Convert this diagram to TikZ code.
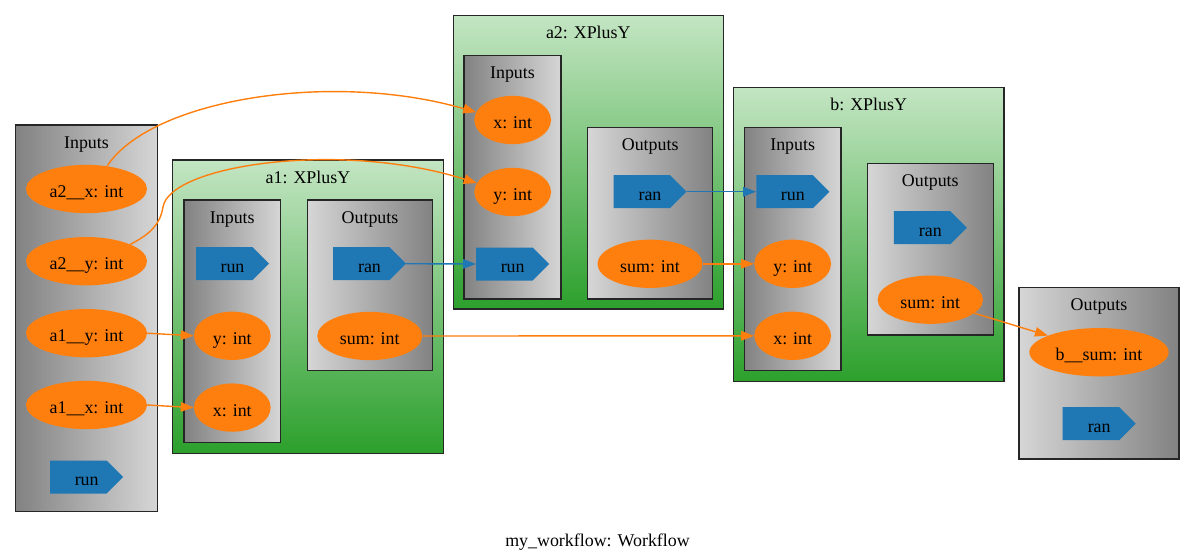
\documentclass[tikz,border=0pt]{standalone}
\usepackage{fontspec}
\setmainfont{Liberation Serif}
\usetikzlibrary{shapes.geometric,arrows.meta}
\definecolor{orng}{HTML}{FF7F0E}
\definecolor{blu}{HTML}{1F77B4}
\definecolor{grn}{HTML}{2CA02C}
\definecolor{grnlight}{HTML}{C3E5C3}
\definecolor{gdark}{HTML}{828282}
\definecolor{glight}{HTML}{D6D6D6}
\newcommand\cdsnode[4]{%
  \fill[blu] ({#2-36.5},{#3-16.5}) -- ({#2+20},{#3-16.5}) -- ({#2+36.5},{#3}) -- ({#2+20},{#3+16.5}) -- ({#2-36.5},{#3+16.5}) -- cycle;
  \node[txt, minimum width=73pt, minimum height=33pt] (#1) at (#2,#3) {#4};}
\begin{document}
\begin{tikzpicture}[x=1pt,y=-1pt,
  txt/.style={font=\fontsize{17.9pt}{21pt}\selectfont, inner sep=0pt, text height=17pt, text depth=0pt},
  lbl/.style={font=\fontsize{17.9pt}{21pt}\selectfont, inner sep=0pt, anchor=base},
  port/.style={txt, ellipse, fill=orng, draw=none, minimum height=48.3pt},
  clus/.style={draw=black!85, line width=1.1pt},
  grayLR/.style={left color=gdark, right color=glight},
  grayRL/.style={left color=glight, right color=gdark},
  greenTB/.style={top color=grnlight, bottom color=grn},
  oedge/.style={draw=orng, line width=1.4pt, -{Triangle[length=13pt,width=9.5pt]}},
  bedge/.style={draw=blu, line width=1.4pt, -{Triangle[length=13pt,width=9.5pt]}}]
\useasboundingbox (0,0) rectangle (1195,558);

% ---------- clusters ----------
\draw[clus, grayLR] (15.7,125) rectangle (157.3,511.7);
\node[lbl] (lInL) at (86.5,148) {Inputs};

\draw[clus, greenTB] (172.7,160) rectangle (443.3,453.3);
\node[lbl] (la1) at (308,183.3) {a1: XPlusY};
\draw[clus, grayLR] (184,200) rectangle (280.7,442.7);
\node[lbl] (la1in) at (232.3,223) {Inputs};
\draw[clus, grayRL] (307.3,200) rectangle (432.7,370.7);
\node[lbl] (la1out) at (370,223) {Outputs};

\draw[clus, greenTB] (453.3,15.7) rectangle (723.3,309);
\node[lbl] (la2) at (588.3,38.7) {a2: XPlusY};
\draw[clus, grayLR] (464,55.7) rectangle (561,299);
\node[lbl] (la2in) at (512.5,78.7) {Inputs};
\draw[clus, grayRL] (587.7,127.7) rectangle (712.7,299);
\node[lbl] (la2out) at (650.2,150.7) {Outputs};

\draw[clus, greenTB] (733.3,87.3) rectangle (1004,381.7);
\node[lbl] (lb) at (868.7,110.3) {b: XPlusY};
\draw[clus, grayLR] (744.3,127.7) rectangle (841,370.7);
\node[lbl] (lbin) at (792.7,150.7) {Inputs};
\draw[clus, grayRL] (867.3,163.3) rectangle (993.3,335);
\node[lbl] (lbout) at (930.3,186.3) {Outputs};

\draw[clus, grayRL] (1019,287.3) rectangle (1179,459);
\node[lbl] (lOut) at (1099,310.3) {Outputs};

\node[lbl] (ltitle) at (597.5,546) {my\_workflow: Workflow};

% ---------- nodes ----------
\node[port, minimum width=121pt] (a2x) at (86.5,189) {a2\_\_x: int};
\node[port, minimum width=121pt] (a2y) at (86.5,261.2) {a2\_\_y: int};
\node[port, minimum width=121pt] (a1y) at (86.5,333.2) {a1\_\_y: int};
\node[port, minimum width=121pt] (a1x) at (86.5,405) {a1\_\_x: int};
\cdsnode{wrun}{86.7}{477}{run}

\cdsnode{a1run}{232.5}{263.7}{run}
\node[port, minimum width=76.7pt] (a1yin) at (232.3,335.8) {y: int};
\node[port, minimum width=76.7pt] (a1xin) at (232.3,407.6) {x: int};
\cdsnode{a1ran}{369.5}{263.7}{ran}
\node[port, minimum width=105pt] (a1sum) at (369.8,336) {sum: int};

\node[port, minimum width=76.7pt] (a2xin) at (512.7,120) {x: int};
\node[port, minimum width=76.7pt] (a2yin) at (512.7,192) {y: int};
\cdsnode{a2run}{512.7}{264}{run}
\cdsnode{a2ran}{650}{191.7}{ran}
\node[port, minimum width=105pt] (a2sum) at (650,263.8) {sum: int};

\cdsnode{brun}{792.9}{191.7}{run}
\node[port, minimum width=76.7pt] (byin) at (792.7,263.8) {y: int};
\node[port, minimum width=76.7pt] (bxin) at (792.7,335.8) {x: int};
\cdsnode{bran}{930.3}{227.7}{ran}
\node[port, minimum width=105.3pt] (bsum) at (930.3,299.7) {sum: int};

\node[port, minimum width=139.3pt] (bsumout) at (1099,352.2) {b\_\_sum: int};
\cdsnode{oran}{1099.2}{423.7}{ran}

% ---------- edges ----------
\draw[oedge] (a2x.48) .. controls (150,100) and (330,70) .. (a2xin.168);
\draw[oedge] (a2y.21) .. controls (150,234) and (160,225) .. (163,207)
  .. controls (170,165) and (340,140) .. (a2yin.166);
\draw[oedge] (a1y.east) -- (a1yin.west);
\draw[oedge] (a1x.east) -- (a1xin.west);
\draw[bedge] (a1ran.east) -- (a2run.west);
\draw[oedge] (a1sum.east) -- (bxin.west);
\draw[bedge] (a2ran.east) -- (brun.west);
\draw[oedge] (a2sum.east) -- (byin.west);
\draw[oedge] (bsum.-17) -- (bsumout.162);
\end{tikzpicture}
\end{document}
